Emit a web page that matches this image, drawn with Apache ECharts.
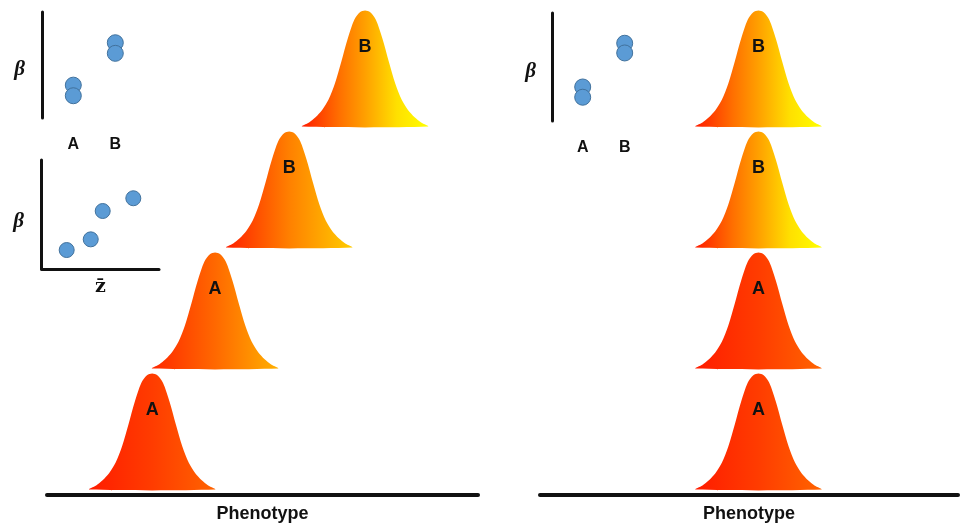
<!DOCTYPE html>
<html>
<head>
<meta charset="utf-8">
<script src="https://cdn.jsdelivr.net/npm/echarts/dist/echarts.min.js"></script>
<style>
  html, body { margin: 0; padding: 0; background: #fff; }
  #chart { width: 960px; height: 526px; }
</style>
</head>
<body>
<div id="chart"></div>
<script>
// curves: phenotype mean and stack row of each distribution
var leftLabels = ['A', 'A', 'B', 'B'];
var leftMeans = [24.4, 39.0, 56.2, 73.8];
var leftRows = [0, 1, 2, 3];
var rightLabels = ['A', 'A', 'B', 'B'];
var rightMeans = [50.7, 50.7, 50.7, 50.7];
var rightRows = [0, 1, 2, 3];

// bell shape (offset from mean, relative height)
var profileX = [-14.6, -13, -11.5, -10, -8.5, -7, -5.5, -4, -2.5, -1.2, 0, 1.2, 2.5, 4, 5.5, 7, 8.5, 10, 11.5, 13, 14.6];
var profileY = [0, 0.035, 0.08, 0.14, 0.23, 0.37, 0.56, 0.76, 0.92, 0.985, 1, 0.985, 0.92, 0.76, 0.56, 0.37, 0.23, 0.14, 0.08, 0.035, 0];

// insets (beta values)
var insetCats = ['A', 'B'];
var inset1A = [3.1, 2.1];
var inset1B = [7.1, 6.1];
var inset2Z = [2.13, 4.18, 5.2, 7.81];
var inset2Beta = [1.74, 2.72, 5.32, 6.49];
var inset3A = [3.15, 2.2];
var inset3B = [7.2, 6.3];

// styles
var redStops = [[0, '#ff1c00'], [0.5, '#ff3c00'], [1, '#ff6400']];
var yellowStops = [[0, '#ff1c00'], [0.3, '#ff7000'], [0.5, '#ffa000'], [0.75, '#ffe000'], [1, '#ffff00']];
var leftFills = [
  redStops,
  [[0, '#ff2800'], [0.5, '#ff6800'], [1, '#ffb000']],
  [[0, '#ff2000'], [0.5, '#ff8000'], [1, '#ffcc00']],
  yellowStops
];
var rightFills = [redStops, redStops, yellowStops, yellowStops];
var PEAK = 0.96, LABEL_LIFT = 0.66;
var SANS = '"Liberation Sans", Arial, sans-serif';
var SERIF = '"Liberation Serif", "DejaVu Serif", serif';

function makeCurves(labels, fills) {
  return function (params, api) {
    var i = params.dataIndex;
    var mean = api.value(0), row = api.value(1);
    var pts = profileX.map(function (dx, k) {
      return api.coord([mean + dx, row + profileY[k] * PEAK]);
    });
    var lab = api.coord([mean, row + LABEL_LIFT]);
    var stops = fills[i].map(function (s) { return { offset: s[0], color: s[1] }; });
    return {
      type: 'group',
      children: [
        { type: 'polygon', shape: { points: pts, smooth: 0.3 },
          style: { fill: new echarts.graphic.LinearGradient(0, 0, 1, 0, stops) } },
        { type: 'text', x: lab[0], y: lab[1],
          style: { text: labels[i], fontSize: 18, fontWeight: 'bold', fontFamily: SANS,
                   fill: '#111', align: 'center', verticalAlign: 'middle' } }
      ]
    };
  };
}

function pairs(xs, ys) { return xs.map(function (x, k) { return [x, ys[k]]; }); }

var blueDot = { color: '#5b9bd5', borderColor: '#41719c', borderWidth: 1, opacity: 1 };
var blackLine = { show: true, lineStyle: { color: '#111', width: 3 } };
var betaName = { fontFamily: SERIF, fontStyle: 'italic', fontWeight: 'bold', fontSize: 21,
                 color: '#111', align: 'center', verticalAlign: 'top', lineHeight: 10 };
var phenoName = { fontFamily: SANS, fontWeight: 'bold', fontSize: 18, color: '#111', verticalAlign: 'top' };
var baseLine = { show: true, onZero: false, lineStyle: { color: '#111', width: 4 } };

var chart = echarts.init(document.getElementById('chart'));
chart.setOption({
  animation: false,
  grid: [
    { left: 47, width: 431, top: 5.6, bottom: 31, outerBoundsMode: 'none' },
    { left: 540, width: 418, top: 5.6, bottom: 31, outerBoundsMode: 'none' },
    { left: 52.3, width: 84, top: 12, height: 106, outerBoundsMode: 'none' },
    { left: 41.7, width: 117.3, top: 160, height: 109, outerBoundsMode: 'none' },
    { left: 561.7, width: 84, top: 13, height: 108, outerBoundsMode: 'none' }
  ],
  xAxis: [
    { gridIndex: 0, type: 'value', min: 0, max: 100, axisLine: baseLine,
      axisTick: { show: false }, axisLabel: { show: false }, splitLine: { show: false },
      name: 'Phenotype', nameLocation: 'middle', nameGap: 10, nameTextStyle: phenoName },
    { gridIndex: 1, type: 'value', min: 0, max: 97, axisLine: baseLine,
      axisTick: { show: false }, axisLabel: { show: false }, splitLine: { show: false },
      name: 'Phenotype', nameLocation: 'middle', nameGap: 10, nameTextStyle: phenoName },
    { gridIndex: 2, type: 'category', data: insetCats, axisLine: { show: false }, axisTick: { show: false },
      axisLabel: { margin: 19, fontFamily: SANS, fontWeight: 'bold', fontSize: 16, color: '#111' } },
    { gridIndex: 3, type: 'value', min: 0, max: 10, axisLine: blackLine, axisTick: { show: false },
      axisLabel: { show: false }, splitLine: { show: false },
      name: 'z\u0304', nameLocation: 'middle', nameGap: 9,
      nameTextStyle: { fontFamily: '"DejaVu Serif", serif', fontWeight: 'bold', fontSize: 19, color: '#111', verticalAlign: 'top' } },
    { gridIndex: 4, type: 'category', data: insetCats, axisLine: { show: false }, axisTick: { show: false },
      axisLabel: { margin: 19, fontFamily: SANS, fontWeight: 'bold', fontSize: 16, color: '#111' } }
  ],
  yAxis: [
    { gridIndex: 0, type: 'value', min: -0.045, max: 4, show: false },
    { gridIndex: 1, type: 'value', min: -0.045, max: 4, show: false },
    { gridIndex: 2, type: 'value', min: 0, max: 10, offset: 9.6, axisLine: blackLine, axisTick: { show: false },
      axisLabel: { show: false }, splitLine: { show: false },
      name: '\u03b2', nameLocation: 'middle', nameRotate: 0, nameGap: 23, nameTextStyle: betaName },
    { gridIndex: 3, type: 'value', min: 0, max: 10, axisLine: blackLine, axisTick: { show: false },
      axisLabel: { show: false }, splitLine: { show: false },
      name: '\u03b2', nameLocation: 'middle', nameRotate: 0, nameGap: 23,
      nameTextStyle: Object.assign({}, betaName, { lineHeight: 14 }) },
    { gridIndex: 4, type: 'value', min: 0, max: 10, offset: 9, axisLine: blackLine, axisTick: { show: false },
      axisLabel: { show: false }, splitLine: { show: false },
      name: '\u03b2', nameLocation: 'middle', nameRotate: 0, nameGap: 22, nameTextStyle: betaName }
  ],
  series: [
    { type: 'custom', xAxisIndex: 0, yAxisIndex: 0, data: pairs(leftMeans, leftRows),
      renderItem: makeCurves(leftLabels, leftFills), silent: true },
    { type: 'custom', xAxisIndex: 1, yAxisIndex: 1, data: pairs(rightMeans, rightRows),
      renderItem: makeCurves(rightLabels, rightFills), silent: true },
    { type: 'scatter', xAxisIndex: 2, yAxisIndex: 2, symbolSize: 16, itemStyle: blueDot,
      data: inset1A.map(function (v) { return ['A', v]; }).concat(inset1B.map(function (v) { return ['B', v]; })) },
    { type: 'scatter', xAxisIndex: 3, yAxisIndex: 3, symbolSize: 15, itemStyle: blueDot,
      data: pairs(inset2Z, inset2Beta) },
    { type: 'scatter', xAxisIndex: 4, yAxisIndex: 4, symbolSize: 16, itemStyle: blueDot,
      data: inset3A.map(function (v) { return ['A', v]; }).concat(inset3B.map(function (v) { return ['B', v]; })) }
  ]
});
</script>
</body>
</html>
